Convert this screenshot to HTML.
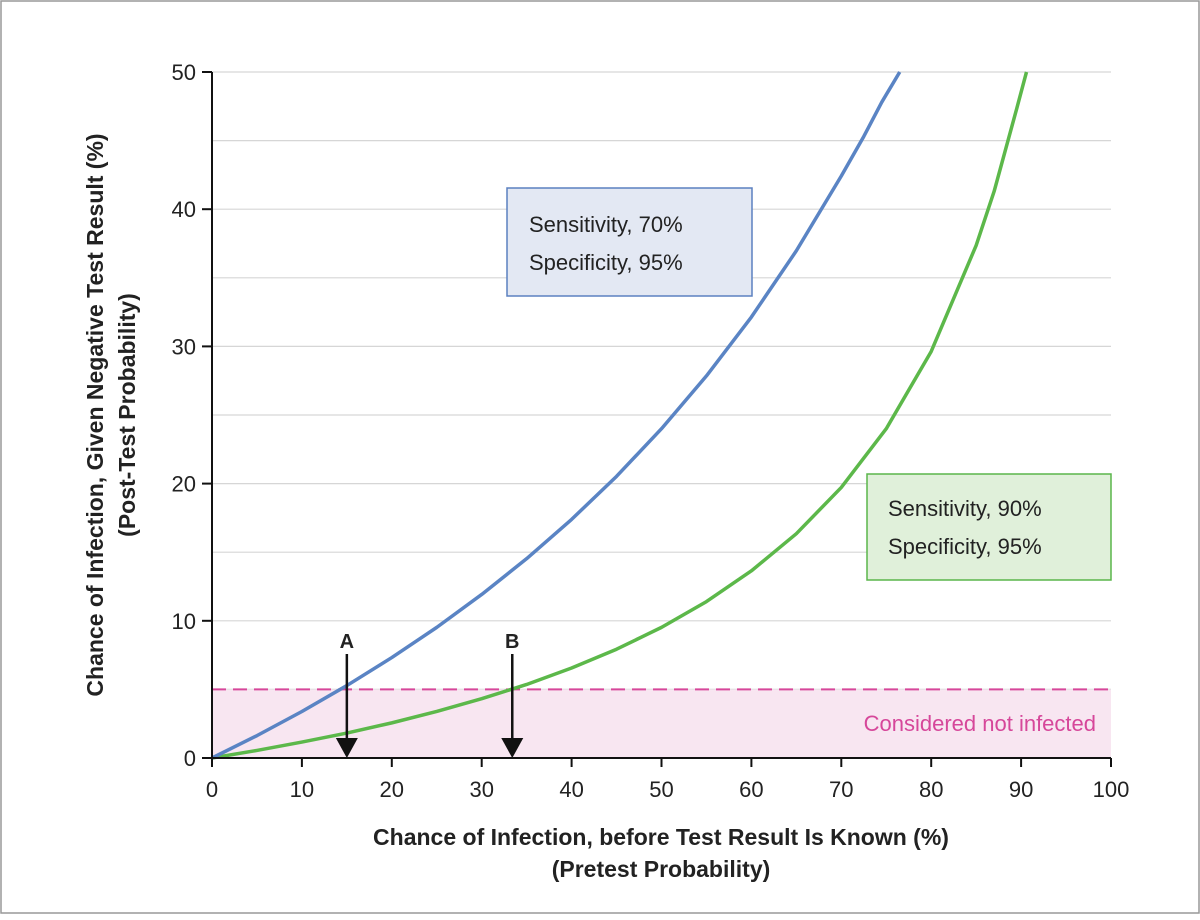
<!DOCTYPE html>
<html><head><meta charset="utf-8"><style>
body{margin:0;background:#fff}
svg text{font-family:"Liberation Sans",sans-serif;fill:#222}
</style></head><body>
<svg width="1200" height="915" viewBox="0 0 1200 915">
<rect x="1" y="1" width="1198" height="912" fill="#fff" stroke="#999" stroke-width="1.5"/>
<g id="grid"></g>
<g id="band"></g>
<g id="series"></g>
<g id="axes"></g>
<rect x="507" y="188" width="245" height="108" fill="#e3e8f3" stroke="#5b80c0" stroke-width="1.5"/>
<text x="529" y="232" font-size="22">Sensitivity, 70%</text>
<text x="529" y="270" font-size="22">Specificity, 95%</text>
<rect x="867" y="474" width="244" height="106" fill="#e0f0da" stroke="#5ab54b" stroke-width="1.5"/>
<text x="888" y="516" font-size="22">Sensitivity, 90%</text>
<text x="888" y="554" font-size="22">Specificity, 95%</text>
<text x="1096" y="731" font-size="22" text-anchor="end" fill="#d6479a" style="fill:#d6479a">Considered not infected</text>
<text x="661" y="845" font-size="23" font-weight="bold" text-anchor="middle">Chance of Infection, before Test Result Is Known (%)</text>
<text x="661" y="877" font-size="23" font-weight="bold" text-anchor="middle">(Pretest Probability)</text>
<text transform="translate(103,415) rotate(-90)" font-size="23" font-weight="bold" text-anchor="middle">Chance of Infection, Given Negative Test Result (%)</text>
<text transform="translate(135,415) rotate(-90)" font-size="23" font-weight="bold" text-anchor="middle">(Post-Test Probability)</text>
</svg>
<script>
const xTicks=[0,10,20,30,40,50,60,70,80,90,100];
const yTicks=[0,10,20,30,40,50];
const bluePre=[0,5,10,15,20,25,30,35,40,45,50,55,60,65,70,72.5,74.5,76.5];
const bluePost=[0,1.63,3.39,5.28,7.32,9.52,11.92,14.53,17.39,20.53,24.0,27.85,32.14,36.97,42.42,45.3,47.8,50];
const greenPre=[0,5,10,15,20,25,30,35,40,45,50,55,60,65,70,75,80,85,87,89.5,90.6];
const greenPost=[0,0.55,1.16,1.82,2.56,3.39,4.32,5.36,6.56,7.93,9.52,11.40,13.64,16.35,19.72,24.0,29.63,37.36,41.3,47.3,50];
const threshold=5;
const markers=[{label:'A',x:15},{label:'B',x:33.4}];
const X=v=>212+v*8.99, Y=v=>758-v*13.72;
const NS='http://www.w3.org/2000/svg';
function mk(p,t,a){const e=document.createElementNS(NS,t);for(const k in a)e.setAttribute(k,a[k]);p.appendChild(e);return e;}
const grid=document.getElementById('grid'),band=document.getElementById('band'),ser=document.getElementById('series'),axes=document.getElementById('axes');
for(let v=5;v<=50;v+=5){const l=mk(grid,'line',{x1:X(0),x2:X(100),y1:Y(v),y2:Y(v),stroke:'#d6d6d6','stroke-width':1.2});

}
const b=mk(band,'rect',{x:X(0),y:Y(threshold),width:X(100)-X(0),height:Y(0)-Y(threshold),fill:'#f8e6f1'});


const dl=mk(band,'line',{x1:X(0),x2:X(100),y1:Y(threshold),y2:Y(threshold),stroke:'#d6479a','stroke-width':2,'stroke-dasharray':'14 7'});


function line(xs,ys,c,n){const pl=mk(ser,'polyline',{points:xs.map((x,i)=>X(x)+','+Y(ys[i])).join(' '),fill:'none',stroke:c,'stroke-width':3.5,'stroke-linejoin':'round','stroke-linecap':'butt'});

}
line(greenPre,greenPost,'#5cb84a','green-curve');
line(bluePre,bluePost,'#5a84c4','blue-curve');
markers.forEach(m=>{const g=mk(ser,'g',{});


mk(g,'line',{x1:X(m.x),x2:X(m.x),y1:654,y2:740,stroke:'#111','stroke-width':2.5});
mk(g,'polygon',{points:`${X(m.x)-11},738 ${X(m.x)+11},738 ${X(m.x)},758`,fill:'#111'});
const t=mk(g,'text',{x:X(m.x),y:648,'font-size':20,'font-weight':'bold','text-anchor':'middle'});t.textContent=m.label;});
const ya=mk(axes,'line',{x1:X(0),x2:X(0),y1:Y(50),y2:Y(0),stroke:'#111','stroke-width':2});


const xa=mk(axes,'line',{x1:X(0),x2:X(100),y1:Y(0),y2:Y(0),stroke:'#111','stroke-width':2});


yTicks.forEach(v=>{mk(axes,'line',{x1:X(0)-10,x2:X(0),y1:Y(v),y2:Y(v),stroke:'#111','stroke-width':2});
const t=mk(axes,'text',{x:X(0)-16,y:Y(v)+8,'font-size':22,'text-anchor':'end'});t.textContent=v;

});
xTicks.forEach(v=>{mk(axes,'line',{x1:X(v),x2:X(v),y1:Y(0),y2:Y(0)+9,stroke:'#111','stroke-width':2});
const t=mk(axes,'text',{x:X(v),y:797,'font-size':22,'text-anchor':'middle'});t.textContent=v;

});
</script>
</body></html>
